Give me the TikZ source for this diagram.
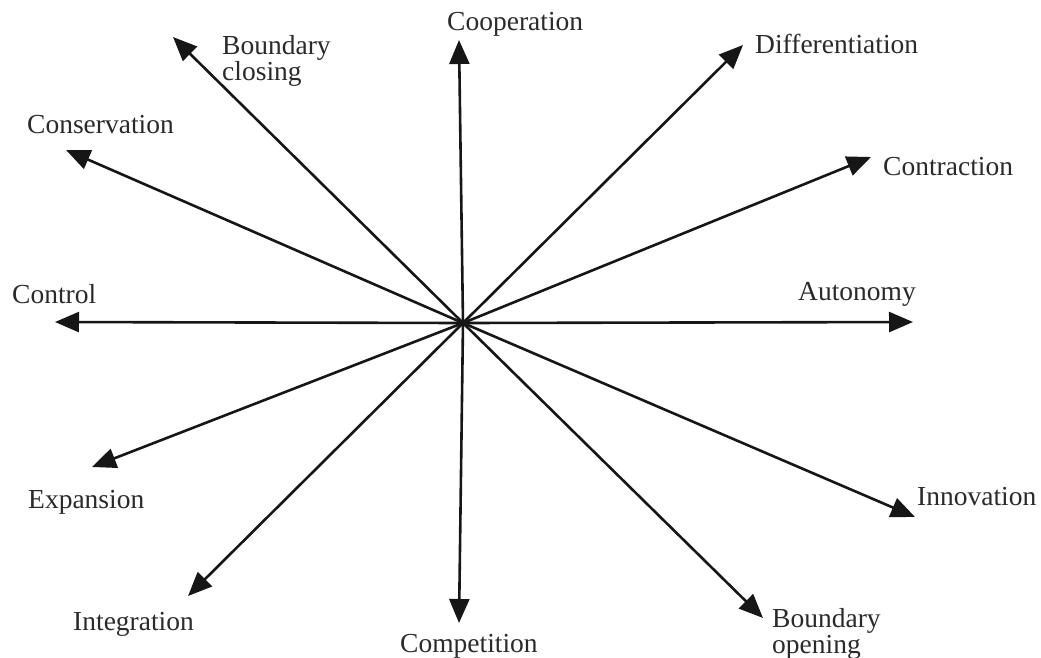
\documentclass[tikz,border=0pt]{standalone}
\usepackage{fontspec}
\setmainfont{Liberation Serif}
\usetikzlibrary{arrows.meta}
\definecolor{ink}{HTML}{161616}
\definecolor{labelgray}{HTML}{2A2A2A}
\tikzset{
  ray/.style={draw=ink, line width=2.6pt, -{Triangle[length=24pt,width=20pt]}},
  lbl/.style={anchor=base west, inner sep=0pt, text=labelgray,
    font=\fontsize{27.5}{26}\selectfont, align=left}
}
\begin{document}
\begin{tikzpicture}[x=1pt,y=-1pt]
\useasboundingbox (0,0) rectangle (1041,657);
% hub and arrow tips
\coordinate (c) at (463,323);
\coordinate (coop) at (459,40);
\coordinate (comp) at (459,623);
\coordinate (ctrl) at (55,322);
\coordinate (auto) at (913,322);
\coordinate (bclose) at (173,37);
\coordinate (cons) at (66,150);
\coordinate (diff) at (743,45);
\coordinate (contr) at (871,157);
\coordinate (expa) at (92,467);
\coordinate (inno) at (915,517);
\coordinate (inte) at (188,596);
\coordinate (bopen) at (763,618);
% rays
\foreach \t in {coop,comp,ctrl,auto,bclose,cons,diff,contr,expa,inno,inte,bopen}
  \draw[ray] (c) -- (\t);
% labels (two-line labels are placed by their last baseline)
\node[lbl] (lcoop) at (447,30) {Cooperation};
\node[lbl] (lcomp) at (400,652) {Competition};
\node[lbl] (lctrl) at (12,303) {Control};
\node[lbl] (lauto) at (798,300) {Autonomy};
\node[lbl] (lbclose) at (222,80) {Boundary\\closing};
\node[lbl] (lcons) at (27,133) {Conservation};
\node[lbl] (ldiff) at (755,53) {Differentiation};
\node[lbl] (lcontr) at (883,175) {Contraction};
\node[lbl] (lexpa) at (28,508) {Expansion};
\node[lbl] (linno) at (917,505) {Innovation};
\node[lbl] (linte) at (73,630) {Integration};
\node[lbl] (lbopen) at (772,653) {Boundary\\opening};
\end{tikzpicture}
\end{document}
